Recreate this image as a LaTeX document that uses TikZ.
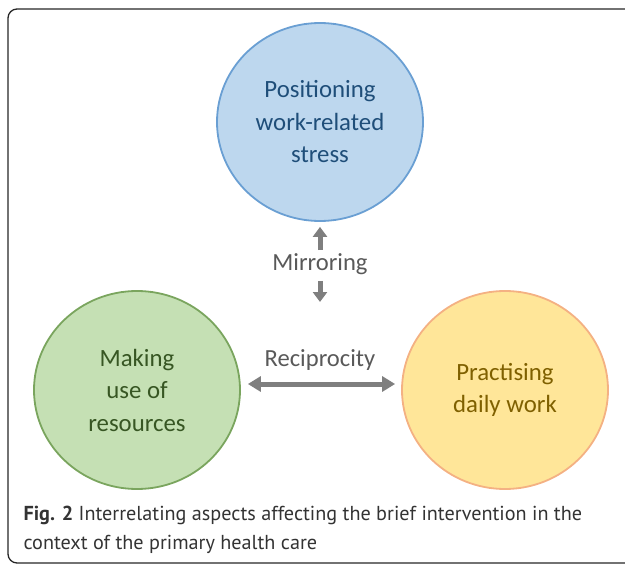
\documentclass[tikz,border=0pt]{standalone}
\usepackage{fontspec}
\setmainfont{Carlito}
\newfontfamily\capfont{PT Sans}
\usepackage{xcolor}
\usetikzlibrary{arrows.meta,positioning,shapes.geometric}

\definecolor{stressfill}{HTML}{BDD7EE}
\definecolor{stressline}{HTML}{6A9FD3}
\definecolor{stresstext}{HTML}{1F4E79}
\definecolor{resfill}{HTML}{C5E0B4}
\definecolor{resline}{HTML}{7AA55E}
\definecolor{restext}{HTML}{375623}
\definecolor{workfill}{HTML}{FFE699}
\definecolor{workline}{HTML}{F4B183}
\definecolor{worktext}{HTML}{7F6000}
\definecolor{arrowgray}{HTML}{7F7F7F}
\definecolor{labelgray}{HTML}{595959}

\begin{document}
\begin{tikzpicture}[
  x=1pt, y=-1pt,
  aspect/.style={ellipse, line width=1.8pt, minimum width=206pt, minimum height=198pt,
    align=center, font=\fontsize{24.8}{32.5}\selectfont},
  link/.style={font=\fontsize{24.6}{28}\selectfont, text=labelgray},
  arrow/.style={-{Triangle[length=10pt, width=14pt]}, line width=5pt, draw=arrowgray},
  twoway/.style={{Triangle[length=13pt, width=15pt]}-{Triangle[length=13pt, width=15pt]}, line width=5pt, draw=arrowgray},
]
\clip (0,0) rectangle (625,565);

% Frame
\draw[line width=1.3pt, rounded corners=9pt, draw=black!85] (8,9) rectangle (660,563);

% Aspects
\node[aspect, fill=stressfill, draw=stressline, text=stresstext] (stress) at (320,122)
  {Positioning\\work-related\\stress};
\node[aspect, fill=resfill, draw=resline, text=restext] (resources) at (137,390)
  {Making\\use of\\resources};
\node[aspect, fill=workfill, draw=workline, text=worktext] (work) at (505,390)
  {Practising\\daily work};

% Relations
\node[link, inner sep=1pt] (mirror) at (320,264) {Mirroring};
\node[link] (recip) at (320,360) {Reciprocity};
\coordinate (mirrorend) at (320,302);

\draw[arrow, shorten >=5pt, shorten <=2pt] (mirror) -- (stress);
\draw[arrow, shorten <=5pt] (mirror) -- (mirrorend);
\draw[twoway, shorten <=7pt, shorten >=6pt] ([yshift=6pt]resources.east) -- ([yshift=6pt]work.west);

% Caption
\node[anchor=north west, align=left, text=black!80, font=\capfont\fontsize{20.2}{29}\selectfont] (caption) at (20,503)
  {\textbf{Fig. 2} Interrelating aspects affecting the brief intervention in the\\context of the primary health care};
\end{tikzpicture}
\end{document}
